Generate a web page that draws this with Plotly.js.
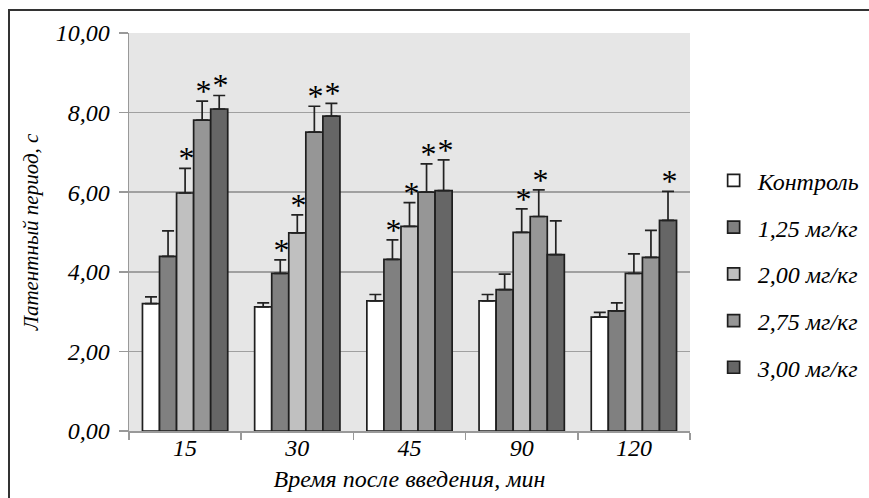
<!DOCTYPE html>
<html>
<head>
<meta charset="utf-8">
<script src="https://cdn.plot.ly/plotly-3.0.1.min.js"></script>
<style>
html,body{margin:0;padding:0;background:#fff;}
#wrap{position:relative;width:869px;height:498px;overflow:hidden;}
#chart{width:869px;height:498px;}
#frame{position:absolute;left:8px;top:9px;width:900px;height:600px;border-left:2px solid #333;border-top:2px solid #333;pointer-events:none;}
</style>
</head>
<body>
<div id="wrap"><div id="chart"></div><div id="frame"></div></div>
<script>
var categories = ['15', '30', '45', '90', '120'];
var seriesNames = ['Контроль', '1,25 мг/кг', '2,00 мг/кг', '2,75 мг/кг', '3,00 мг/кг'];

var control = [3.20, 3.12, 3.27, 3.27, 2.86];
var dose125 = [4.39, 3.96, 4.31, 3.55, 3.02];
var dose200 = [5.98, 4.98, 5.14, 4.99, 3.96];
var dose275 = [7.81, 7.51, 6.00, 5.39, 4.36];
var dose300 = [8.09, 7.91, 6.04, 4.43, 5.29];

var errControl = [0.17, 0.10, 0.16, 0.16, 0.12];
var err125 = [0.64, 0.34, 0.49, 0.39, 0.20];
var err200 = [0.62, 0.45, 0.60, 0.59, 0.49];
var err275 = [0.48, 0.65, 0.71, 0.67, 0.68];
var err300 = [0.34, 0.32, 0.77, 0.85, 0.73];

var sigControl = [0, 0, 0, 0, 0];
var sig125 = [0, 1, 1, 0, 0];
var sig200 = [1, 1, 1, 1, 0];
var sig275 = [1, 1, 1, 1, 0];
var sig300 = [1, 1, 1, 0, 1];

var yTicks = [0, 2, 4, 6, 8, 10];

var values = [control, dose125, dose200, dose275, dose300];
var errs = [errControl, err125, err200, err275, err300];
var sigs = [sigControl, sig125, sig200, sig275, sig300];
var colors = ['#ffffff', '#808080', '#c0c0c0', '#969696', '#666666'];

var W = 869, H = 498;
var margin = {l: 129, r: 179, t: 33, b: 67, pad: 0, autoexpand: false};
var bargap = 0.24;
var font = "'Liberation Serif', 'Times New Roman', serif";

var traces = values.map(function (v, i) {
  return {
    type: 'bar',
    name: seriesNames[i],
    x: categories,
    y: v,
    legendgroup: 'g' + i,
    marker: {color: colors[i], line: {color: '#1e1e1e', width: 1.7}},
    error_y: {type: 'data', symmetric: false, array: errs[i],
      arrayminus: v.map(function () { return 0; }),
      color: '#222222', thickness: 1.7, width: 6},
    hoverinfo: 'skip'
  };
});

var plotW = W - margin.l - margin.r;
var catW = plotW / categories.length;
var barW = catW * (1 - bargap) / values.length;
var annotations = [];
values.forEach(function (v, i) {
  v.forEach(function (val, j) {
    if (sigs[i][j]) {
      annotations.push({
        x: j, y: val + errs[i][j], xref: 'x', yref: 'y',
        text: '*', showarrow: false, xanchor: 'center', yanchor: 'bottom',
        xshift: (i - (values.length - 1) / 2) * barW, yshift: -10,
        font: {family: font, size: 32, color: '#000'}
      });
    }
  });
});

var tickFont = {family: font, size: 24, style: 'italic', color: '#000'};
var xTitleFont = {family: font, size: 24, style: 'italic', color: '#000'};
var yTitleFont = {family: font, size: 21, style: 'italic', color: '#000'};

var layout = {
  width: W, height: H,
  margin: margin,
  paper_bgcolor: '#ffffff',
  plot_bgcolor: '#e6e6e6',
  separators: ', ',
  barmode: 'group',
  bargap: bargap,
  bargroupgap: 0,
  font: xTitleFont,
  showlegend: true,
  legend: {
    x: 1.035, xanchor: 'left', y: 0.685, yanchor: 'top',
    traceorder: 'grouped', tracegroupgap: 12.5, itemwidth: 38,
    font: {family: font, size: 24, style: 'italic', color: '#000'},
    bgcolor: 'rgba(0,0,0,0)', itemclick: false
  },
  xaxis: {
    type: 'category',
    categoryorder: 'array', categoryarray: categories,
    showline: true, linecolor: '#999999', linewidth: 1.5,
    ticks: 'outside', ticklen: 7, tickcolor: '#999999', tickwidth: 1.5,
    tickson: 'boundaries',
    ticklabelstandoff: -5,
    tickfont: tickFont,
    title: {text: 'Время после введения, мин', standoff: 10, font: xTitleFont},
    showgrid: false, zeroline: false
  },
  yaxis: {
    range: [0, 10],
    tickvals: yTicks,
    tickformat: '.2f',
    showline: true, linecolor: '#999999', linewidth: 1.5,
    ticks: 'outside', ticklen: 9, tickcolor: '#999999', tickwidth: 1.5,
    ticklabelstandoff: 4,
    tickfont: tickFont,
    showgrid: true, gridcolor: '#a0a0a0', gridwidth: 1.5,
    zeroline: false,
    title: {text: 'Латентный период, с', standoff: 11, font: yTitleFont}
  },
  annotations: annotations
};

Plotly.newPlot('chart', traces, layout, {staticPlot: true, displayModeBar: false});
</script>
</body>
</html>
